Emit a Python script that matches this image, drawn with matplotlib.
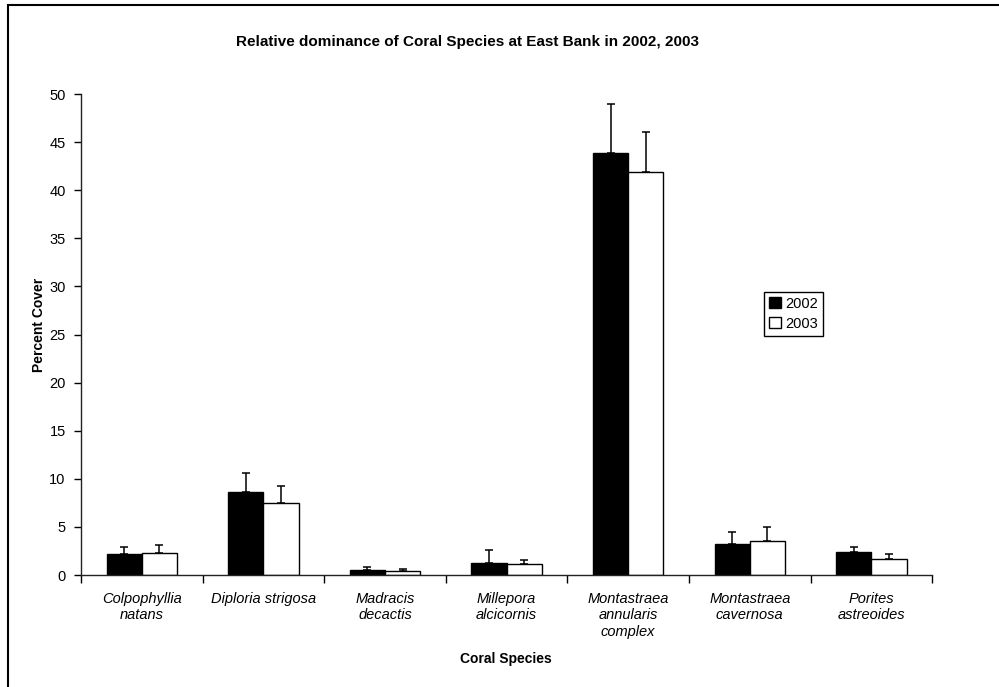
import numpy as np
import matplotlib
matplotlib.use('Agg')
import matplotlib.pyplot as plt
from matplotlib.patches import Rectangle

plt.rcParams['font.family'] = ['Liberation Sans', 'DejaVu Sans']

# percent cover per species, with standard error
especies = ['Colpophyllia\nnatans', 'Diploria strigosa', 'Madracis\ndecactis',
            'Millepora\nalcicornis', 'Montastraea\nannularis\ncomplex',
            'Montastraea\ncavernosa', 'Porites\nastreoides']
anos = ['2002', '2003']
cob_2002 = [2.15, 8.6, 0.5, 1.3, 43.9, 3.25, 2.35]
err_2002 = [0.8, 2.05, 0.35, 1.25, 5.1, 1.2, 0.6]
cob_2003 = [2.3, 7.45, 0.45, 1.15, 41.9, 3.55, 1.7]
err_2003 = [0.8, 1.8, 0.2, 0.45, 4.2, 1.45, 0.45]
yticks = np.arange(0, 55, 5)

fig = plt.figure(figsize=(9.99, 6.87), dpi=100)
ax = fig.add_axes([0.0811, 0.163, 0.852, 0.700])

x = np.arange(len(especies))
w = 0.29
kw = dict(width=w, edgecolor='black', linewidth=1.0, capsize=3.2,
          error_kw=dict(elinewidth=1.1, capthick=1.1, ecolor='black'))
ax.bar(x - w/2, cob_2002, yerr=[np.zeros(len(x)), err_2002], color='black',
       label=anos[0], **kw)
ax.bar(x + w/2, cob_2003, yerr=[np.zeros(len(x)), err_2003], color='white',
       label=anos[1], **kw)

ax.set_xlim(-0.5, len(especies) - 0.5)
ax.set_ylim(0, 50)
ax.set_yticks(yticks)
ax.set_yticklabels([str(v) for v in yticks], fontsize=10.5)
ax.set_xticks(np.arange(-0.5, len(especies), 1.0))
ax.set_xticklabels([])
ax.set_xticks(x, minor=True)
ax.set_xticklabels(especies, minor=True, fontsize=10.5, style='italic',
                   linespacing=1.25, va='top')
ax.tick_params(axis='x', which='minor', length=0, pad=12)
ax.tick_params(axis='x', which='major', length=6, width=1, direction='out')
ax.tick_params(axis='y', length=5, width=1, direction='out', pad=6)

for s in ['top', 'right']:
    ax.spines[s].set_visible(False)
for s in ['left', 'bottom']:
    ax.spines[s].set_linewidth(1.0)
    ax.spines[s].set_color('#222222')

leg = ax.legend(loc='center', bbox_to_anchor=(0.837, 0.543), fontsize=10.5,
                fancybox=False, edgecolor='black', framealpha=1,
                handlelength=0.8, handleheight=0.8, handletextpad=0.3,
                borderpad=0.35, labelspacing=0.4, borderaxespad=0)
leg.get_frame().set_linewidth(1.0)

fig.text(0.468, 0.939, 'Relative dominance of Coral Species at East Bank in 2002, 2003',
         ha='center', va='center', fontsize=11, fontweight='bold')
fig.text(0.039, 0.527, 'Percent Cover', rotation=90, ha='center', va='center',
         fontsize=10, fontweight='bold')
fig.text(0.506, 0.041, 'Coral Species', ha='center', va='center',
         fontsize=10, fontweight='bold')

# moldura em volta do grafico
fig.patches.append(Rectangle((0.008, -0.05), 1.05, 0.9927 + 0.05,
                             transform=fig.transFigure, fill=False,
                             edgecolor='black', linewidth=1.5))

fig.savefig('out.png', dpi=100)
